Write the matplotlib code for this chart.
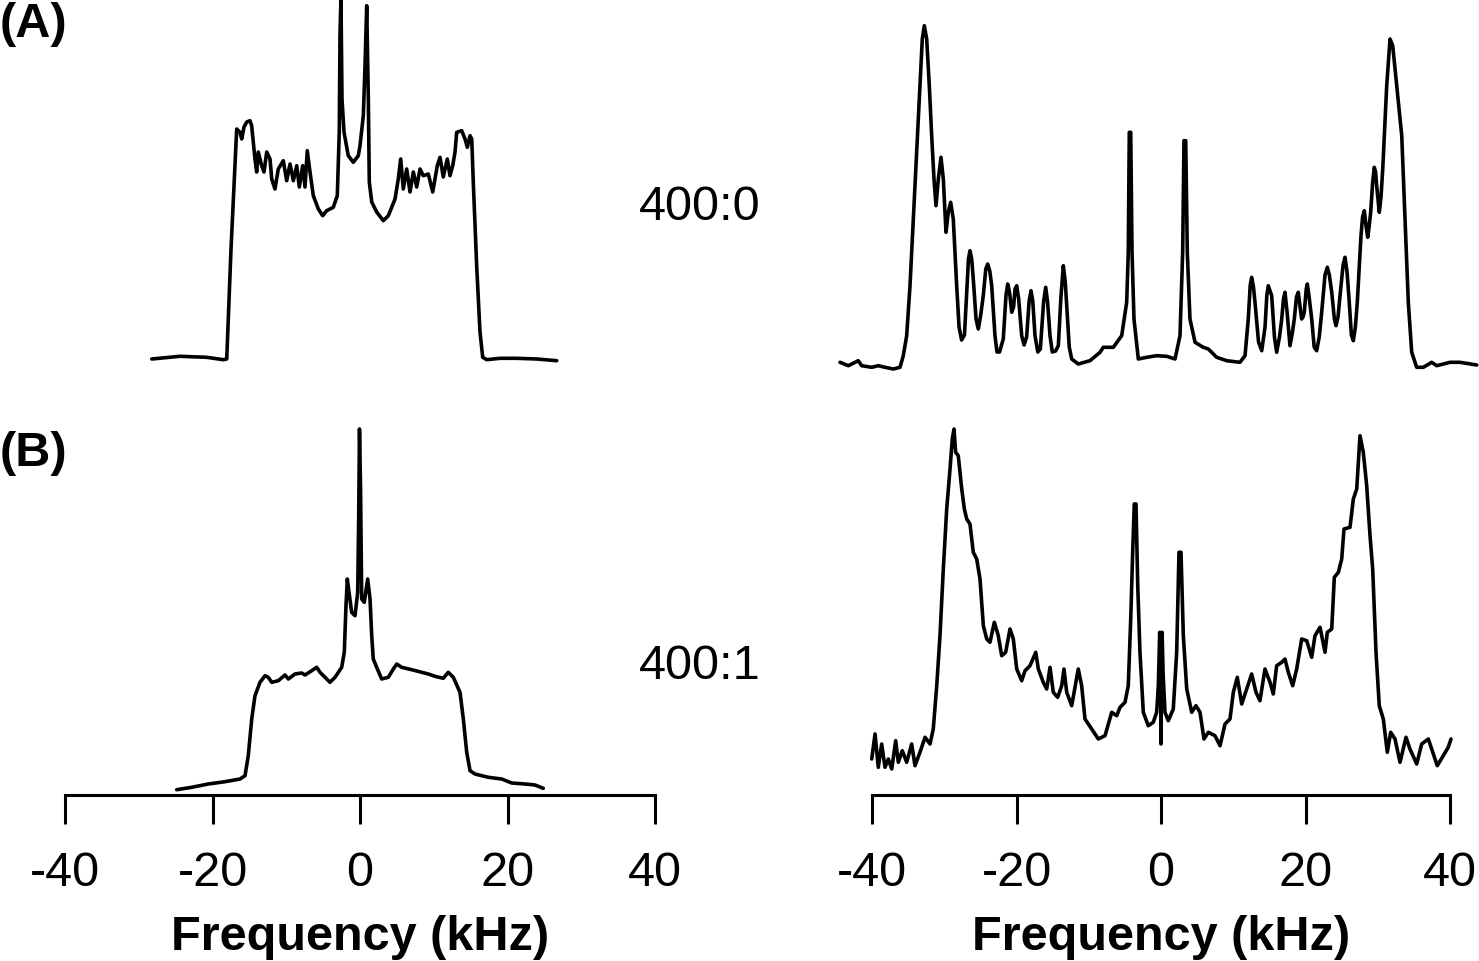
import matplotlib
matplotlib.use("Agg")
import matplotlib.pyplot as plt

plt.rcParams['font.family'] = ['Liberation Sans', 'DejaVu Sans']

# (A) 400:0, left spectrum
tl_khz = [-28.24, -24.41, -20.79, -18.54, -18.07, -17.49, -16.72, -16.27, -16.04, -15.73,
          -15.36, -14.92, -14.69, -14.24, -14.01, -13.79, -13.33, -13.02, -12.65, -12.20,
          -11.97, -11.53, -11.08, -10.40, -9.94, -9.49, -9.04, -8.58, -8.23, -7.77,
          -7.46, -7.15, -6.78, -6.33, -5.65, -5.06, -4.52, -3.62, -3.08, -2.81,
          -2.71, -2.58, -2.44, -2.17, -1.59, -0.91, -0.23, 0.0, 0.45, 0.68,
          0.91, 1.13, 1.26, 1.59, 2.26, 3.16, 3.84, 4.75, 5.19, 5.52,
          5.87, 6.33, 6.78, 7.23, 7.69, 8.14, 8.58, 9.26, 9.86, 10.48,
          10.85, 11.29, 11.84, 12.20, 12.57, 12.88, 13.11, 13.79, 14.24, 14.55,
          14.92, 15.15, 15.36, 15.82, 16.27, 16.64, 17.18, 18.98, 21.25, 23.96, 26.67]
tl_int = [-2, 0.7, -0.3, -2.7, -2, 108, 228, 224.7, 218, 230,
          235, 236.3, 231.3, 198, 185, 205, 191.3, 185, 205, 198,
          178, 168, 188, 196.3, 176.3, 193, 176.3, 191.3, 170, 191.3,
          170, 206.3, 185, 161.3, 148, 141.3, 146.3, 149.7, 161.3, 225,
          325, 358, 258, 225, 201.3, 194.7, 201.3, 211.3, 241.3, 291.3,
          351.3, 258, 175, 155, 145, 136.3, 141.3, 158, 178, 198,
          168, 188, 165, 185, 170, 188, 181.3, 183, 165, 191.3,
          199.7, 180, 198, 181.3, 191.3, 204.7, 224.7, 226.3, 218, 209.7,
          221.3, 218, 175, 91.3, 25, -0.3, -2.7, -1.3, -1.3, -2, -3.7]

# (A) 400:0, right spectrum
tr_khz = [-44.43, -43.28, -41.90, -41.43, -40.04, -39.13, -38.20, -37.05, -36.12, -35.67,
          -35.20, -34.74, -34.28, -33.81, -33.36, -33.04, -32.76, -32.43, -32.07, -31.74,
          -31.42, -31.14, -30.82, -30.45, -30.13, -29.76, -29.44, -29.11, -28.75, -28.28,
          -27.95, -27.60, -27.20, -26.89, -26.65, -26.44, -26.20, -25.98, -25.60, -25.29,
          -24.95, -24.60, -24.25, -23.99, -23.70, -23.43, -22.98, -22.70, -22.35, -21.83,
          -21.45, -21.22, -20.95, -20.66, -20.40, -20.20, -19.97, -19.70, -19.28, -18.95,
          -18.60, -18.25, -17.99, -17.75, -17.44, -17.05, -16.70, -16.25, -15.96, -15.70,
          -15.36, -15.05, -14.60, -14.21, -13.85, -13.52, -13.25, -13.05, -12.70, -12.36,
          -11.45, -9.83, -8.44, -7.99, -6.60, -5.44, -4.75, -4.53, -4.39, -4.19,
          -4.01, -3.74, -3.14, -1.98, -0.60, 0.79, 1.94, 2.63, 3.00, 3.18,
          3.42, 3.64, 4.01, 4.71, 5.85, 6.55, 7.71, 9.09, 10.93, 11.63,
          12.08, 12.35, 12.55, 12.80, 13.01, 13.50, 13.94, 14.40, 14.65, 14.85,
          15.10, 15.32, 15.70, 16.01, 16.40, 16.71, 16.95, 17.16, 17.45, 17.85,
          18.20, 18.45, 18.75, 19.00, 19.25, 19.47, 19.65, 19.83, 20.10, 20.25,
          20.50, 20.86, 21.20, 21.55, 21.90, 22.24, 22.70, 23.02, 23.30, 23.63,
          24.00, 24.22, 24.50, 24.78, 25.20, 25.47, 25.75, 26.06, 26.35, 26.62,
          26.90, 27.17, 27.68, 27.90, 28.14, 28.40, 28.61, 28.80, 29.02, 29.30,
          29.52, 29.70, 29.85, 30.21, 30.45, 30.69, 31.24, 31.70, 32.07, 32.62,
          33.32, 33.77, 34.23, 34.70, 35.39, 36.31, 37.47, 38.16, 40.00, 41.38, 43.70]
tr_int = [4.7, 1.3, 6.3, 1.3, -0.3, 1.3, -0.3, -2, -0.3, 11.3,
          31.3, 81.3, 148, 214.7, 281.3, 328, 341.3, 328, 281.3, 231.3,
          188, 161.3, 188, 209.7, 188, 134.7, 154.7, 164.7, 148, 81.3,
          40, 27, 32, 74.7, 108, 116.3, 108, 88, 48, 38,
          52, 71.3, 98, 103, 96, 81.3, 31.3, 15, 15, 28,
          72, 83, 74, 54.7, 60, 78, 81.3, 68, 31.3, 22,
          30, 66, 76.3, 66, 31.3, 15, 18, 65, 79.7, 65,
          31.3, 15, 16, 21.3, 70, 101.3, 85, 61.3, 20, 8,
          3, 6.3, 14.7, 19.7, 19.7, 31.3, 64.7, 114.7, 234.7, 234.7,
          114.7, 48, 8, 9.7, 11.3, 10.7, 8, 31.3, 114.7, 226.3,
          226.3, 114.7, 48, 24.7, 19.7, 18, 9.7, 6.3, 4.7, 11.3,
          48, 82, 89.7, 80, 64.7, 25, 16.3, 40, 72, 81.3,
          76, 71.3, 30, 14.7, 30, 48, 68, 74.7, 55, 21.3,
          35, 48, 70, 74.7, 60, 48, 50, 54.7, 78, 83,
          70, 48, 20, 16.3, 30, 54.7, 92, 99.7, 92, 74.7,
          48, 41.3, 50, 71.3, 102, 109.7, 95, 64.7, 32, 26.3,
          40, 64.7, 131.3, 150, 156.3, 140, 129.7, 140, 154.7, 185,
          199.7, 195, 181.3, 154.7, 170, 198, 281.3, 328, 321.3, 281.3,
          231.3, 148, 64.7, 14.7, -0.3, -0.3, 4.7, 1.3, 4.7, 4.7, 2]

# (B) 400:1, left spectrum
bl_khz = [-24.85, -22.82, -20.57, -18.31, -16.27, -15.59, -15.15, -14.68, -14.24, -13.56,
          -12.88, -12.43, -11.97, -11.08, -10.17, -9.72, -8.81, -7.91, -7.46, -6.55,
          -5.87, -5.42, -4.75, -4.07, -3.39, -2.48, -2.13, -1.90, -1.72, -1.49,
          -1.13, -0.68, -0.31, -0.18, -0.07, 0.07, 0.23, 0.58, 1.04, 1.36,
          1.59, 1.80, 2.26, 2.94, 3.84, 4.52, 4.98, 5.65, 7.01, 8.37,
          9.26, 10.17, 11.29, 11.97, 12.65, 13.56, 14.01, 14.47, 14.92, 15.59,
          17.40, 19.21, 20.57, 22.37, 23.73, 24.85]
bl_int = [5.3, 7.7, 11, 13.3, 16, 19.3, 39.3, 76, 99.3, 112.7,
          119.3, 117.7, 112.7, 114.3, 120, 116, 121, 122, 120, 124.3,
          127.7, 122.7, 117.7, 112.7, 117.7, 127.7, 142.7, 189.3, 216, 202.7,
          182.7, 179.3, 202.7, 276, 366, 309.3, 196, 192.7, 216, 196,
          159.3, 136, 127.7, 116, 117.7, 126, 131, 127.7, 125.3, 122.7,
          121, 118.7, 116.7, 122.7, 117.7, 102.7, 76, 42.7, 24.3, 21,
          17.7, 16, 12, 11, 10, 6.7]

# (B) 400:1, right spectrum
br_khz = [-40.04, -39.58, -39.13, -38.66, -38.20, -37.74, -37.27, -36.72, -36.36, -35.81,
          -35.20, -34.51, -34.05, -33.36, -32.66, -31.97, -31.52, -31.04, -30.59, -30.13,
          -29.66, -29.20, -28.89, -28.65, -28.42, -28.06, -27.58, -27.22, -26.89, -26.44,
          -25.98, -25.51, -25.05, -24.59, -24.12, -23.67, -23.07, -22.52, -22.05, -21.50,
          -20.90, -20.44, -19.97, -19.28, -18.82, -18.13, -17.34, -16.98, -16.29, -15.82,
          -15.36, -14.91, -14.30, -13.74, -13.43, -13.05, -12.36, -11.45, -10.98, -10.52,
          -9.59, -8.68, -7.75, -6.82, -6.13, -5.67, -4.98, -4.53, -4.19, -3.92,
          -3.70, -3.46, -3.22, -2.91, -2.45, -1.76, -1.07, -0.60, -0.37, -0.18,
          -0.05, 0.0, 0.05, 0.15, 0.30, 0.55, 1.01, 1.70, 2.17, 2.49,
          2.77, 3.09, 3.56, 4.25, 4.84, 5.40, 5.95, 6.55, 7.47, 8.17,
          8.86, 9.55, 10.01, 10.56, 11.17, 11.86, 12.55, 13.15, 13.70, 14.39,
          15.09, 15.54, 16.01, 16.71, 17.16, 17.62, 18.23, 18.78, 19.47, 20.17,
          20.86, 21.31, 22.01, 22.70, 23.02, 23.63, 23.99, 24.55, 25.01, 25.33,
          26.16, 26.62, 27.09, 27.54, 28.00, 28.47, 28.93, 29.30, 29.76, 30.21,
          30.77, 31.32, 31.79, 32.39, 33.08, 33.91, 34.46, 35.39, 36.08, 37.00,
          37.61, 38.24, 39.07, 39.76, 40.14]
br_int = [36, 61, 27.7, 51, 27.7, 36, 26, 54.3, 32.7, 44.3,
          32.7, 51, 29.3, 42.7, 57.7, 51, 66, 109.3, 159.3, 226,
          286, 326, 356, 366, 342.7, 339.3, 306, 286, 276, 271,
          242.7, 236, 216, 169.3, 156, 152.7, 172.7, 159.3, 139.3, 142.7,
          166, 156, 126, 114.3, 124.3, 129.3, 142.7, 126, 112.7, 106,
          127.7, 102.7, 97.7, 109.3, 126, 102.7, 89.3, 126, 109.3, 76,
          66, 56, 59.3, 82.7, 79.3, 87.7, 92.7, 109.3, 176, 242.7,
          291, 291, 209.3, 142.7, 82.7, 69.3, 72.7, 82.7, 109.3, 162.7,
          120, 51, 120, 162.7, 120, 82.7, 74.3, 86, 142.7, 242.7,
          242.7, 159.3, 106, 82.7, 89.3, 82.7, 56, 62.7, 59.3, 49.3,
          71, 76, 102.7, 117.7, 91, 106, 121, 102.7, 94.3, 126,
          112.7, 101, 129.3, 132.7, 136, 122.7, 109.3, 126, 156, 154.3,
          137.7, 159.3, 167.7, 142.7, 162.7, 166, 217.7, 222.7, 236, 266,
          267.7, 296, 306, 359.3, 342.7, 309.3, 259.3, 226, 142.7, 89.3,
          76, 42.7, 62.7, 56, 32.7, 57.7, 46, 31, 51, 56,
          42.7, 29.3, 39.3, 47.7, 56]

ticks = [-40, -20, 0, 20, 40]
ratio_labels = ["400:0", "400:1"]
panel_labels = ["(A)", "(B)"]

W, H = 1479, 962
fig = plt.figure(figsize=(W / 100, H / 100), dpi=100)

left_x = (65 / W, 590 / W)
right_x = (872 / W, 578 / W)

ax_tl = fig.add_axes([left_x[0], (H - 358) / H, left_x[1], 358 / H])
ax_tr = fig.add_axes([right_x[0], (H - 368) / H, right_x[1], 368 / H])
ax_bl = fig.add_axes([left_x[0], (H - 796) / H, left_x[1], 376 / H])
ax_br = fig.add_axes([right_x[0], (H - 796) / H, right_x[1], 376 / H])

style = dict(color='black', lw=2.6, clip_on=False,
             solid_joinstyle='round', solid_capstyle='round')
ax_tl.plot(tl_khz, tl_int, **style)
ax_tl.set_ylim(0, 358)
ax_tr.plot(tr_khz, tr_int, **style)
ax_tr.set_ylim(0, 368)
ax_bl.plot(bl_khz, bl_int, **style)
ax_br.plot(br_khz, br_int, **style)

for ax in (ax_tl, ax_tr):
    ax.set_xlim(-40, 40)
    ax.axis('off')

for ax in (ax_bl, ax_br):
    ax.set_xlim(-40, 40)
    ax.set_ylim(0, 376)
    ax.patch.set_visible(False)
    for side in ('top', 'left', 'right'):
        ax.spines[side].set_visible(False)
    ax.spines['bottom'].set_linewidth(2.2)
    ax.set_yticks([])
    ax.set_xticks(ticks)
    ax.set_xticklabels([str(t) for t in ticks])
    ax.tick_params(axis='x', direction='out', length=21, width=2.2,
                   labelsize=35, pad=18.5)
    ax.set_xlabel("Frequency (kHz)", fontsize=35, fontweight='bold', labelpad=13.5)

fig.text(700 / W, 1 - 220 / H, ratio_labels[0], fontsize=35, ha='center', va='baseline')
fig.text(700 / W, 1 - 679 / H, ratio_labels[1], fontsize=35, ha='center', va='baseline')
fig.text(0, 1 - 37 / H, panel_labels[0], fontsize=35, fontweight='bold', ha='left', va='baseline')
fig.text(0, 1 - 466 / H, panel_labels[1], fontsize=35, fontweight='bold', ha='left', va='baseline')

fig.savefig("out.png", dpi=100)
